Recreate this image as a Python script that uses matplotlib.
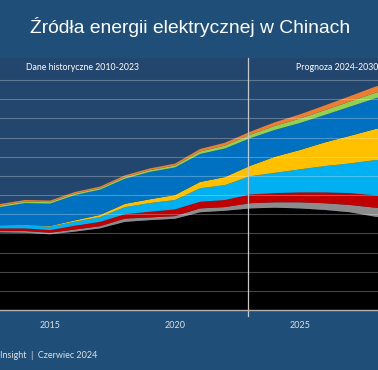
import numpy as np
import matplotlib
matplotlib.use('Agg')
import matplotlib.pyplot as plt


# Electricity generation in China, TWh
years = [2012, 2013, 2014, 2015, 2016, 2017, 2018, 2019, 2020,
         2021, 2022, 2023, 2024, 2025, 2026, 2027, 2028, 2029]
coal = [4000, 4050, 4030, 3950, 4090, 4260, 4600, 4690, 4760,
        5100, 5180, 5300, 5340, 5300, 5220, 5100, 4870, 4700]
gas = [60, 70, 90, 80, 110, 110, 170, 140, 140,
       200, 190, 270, 280, 320, 350, 380, 470, 520]
nuclear = [100, 140, 140, 140, 200, 230, 230, 300, 350,
           350, 370, 460, 480, 520, 570, 620, 650, 680]
wind = [100, 150, 160, 180, 210, 250, 370, 450, 490,
        700, 780, 950, 1060, 1200, 1370, 1550, 1830, 2000]
solar = [5, 10, 20, 30, 70, 110, 170, 200, 260,
         330, 420, 540, 840, 1010, 1240, 1440, 1620, 1800]
hydro = [870, 950, 1140, 1170, 1320, 1320, 1310, 1430, 1440,
         1460, 1490, 1440, 1400, 1410, 1430, 1520, 1600, 1650]
bio = [70, 80, 80, 80, 80, 80, 90, 90, 100,
       130, 150, 180, 210, 230, 250, 270, 290, 310]
other = [70, 80, 80, 80, 80, 80, 90, 90, 100,
         130, 150, 160, 190, 220, 250, 280, 320, 340]

series = [coal, gas, nuclear, wind, solar, hydro, bio, other]
colors = ['#000000', '#8c8c8c', '#c00000', '#00b0f0',
          '#ffc000', '#0070c0', '#92d050', '#ed7d31']

tick_years = [2015, 2020, 2025]
title = 'Źródła energii elektrycznej w Chinach'
label_hist = 'Dane historyczne 2010-2023'
label_fc = 'Prognoza 2024-2030'
footer = 'Insight  |  Czerwiec 2024'

fig_bg = '#1f4e79'
ax_bg = '#22466d'

fig = plt.figure(figsize=(3.78, 3.70), dpi=100, facecolor=fig_bg)
ax = fig.add_axes([0.0, 60 / 370, 1.0, 252 / 370])
ax.set_facecolor(ax_bg)

ax.stackplot(years, *series, colors=colors, linewidth=0, zorder=2)

ax.set_xlim(2013.0, 2028.12)
ax.set_ylim(0, 13150)
ax.set_yticks(np.arange(1000, 12001, 1000))
ax.yaxis.grid(True, color='white', alpha=0.28, linewidth=0.8, zorder=3)
ax.set_axisbelow(False)
ax.tick_params(axis='y', left=False, labelleft=False)
ax.set_xticks(tick_years)
ax.set_xticklabels([str(y) for y in tick_years], fontfamily='Lato',
                   fontsize=6.5, color='#e0e0e0')
ax.tick_params(axis='x', length=0, pad=8)

for side in ['top', 'left', 'right']:
    ax.spines[side].set_visible(False)
ax.spines['bottom'].set_color('#b0b0b0')
ax.spines['bottom'].set_linewidth(1.0)
ax.spines['bottom'].set_zorder(4)

# divider between history and forecast
ax.axvline(2022.93, ymin=-0.024, ymax=1.0, color='#c8c8c8',
           linewidth=0.9, zorder=4, clip_on=False)

ax.text(26 / 378, 0.964, label_hist, transform=ax.transAxes, ha='left',
        va='center', fontfamily='Lato', fontsize=6.3, color='white')
ax.text(296 / 378, 0.964, label_fc, transform=ax.transAxes, ha='left',
        va='center', fontfamily='Lato', fontsize=6.3, color='white')

fig.text(0.503, 0.927, title, ha='center', va='center',
         fontfamily='Liberation Sans', fontsize=13.9, color='white')
fig.text(0.0, 0.038, footer, ha='left', va='center',
         fontfamily='Lato', fontsize=6.5, color='#e0e0e0')

fig.savefig('out.png', dpi=100, facecolor=fig_bg)
